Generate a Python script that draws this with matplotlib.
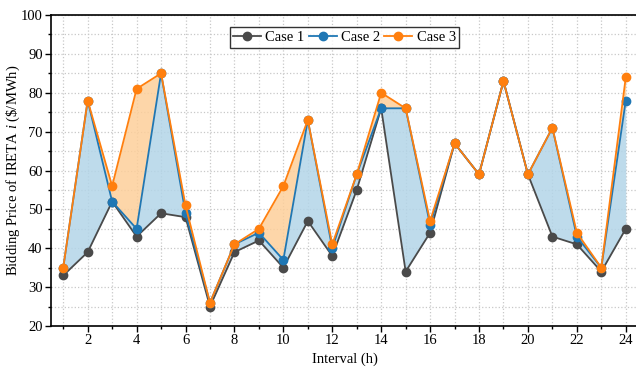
import matplotlib
matplotlib.use("Agg")
import matplotlib.pyplot as plt
from matplotlib.ticker import MultipleLocator
import numpy as np

plt.rcParams['font.family'] = ['Liberation Serif', 'DejaVu Serif']
plt.rcParams['mathtext.fontset'] = 'custom'
plt.rcParams['mathtext.it'] = 'Liberation Serif:italic'
plt.rcParams['mathtext.rm'] = 'Liberation Serif'

hours = list(range(1, 25))
case1 = [33, 39, 52, 43, 49, 48, 25, 39, 42, 35, 47, 38,
         55, 76, 34, 44, 67, 59, 83, 59, 43, 41, 34, 45]
case2 = [35, 78, 52, 45, 85, 49, 26, 41, 44, 37, 73, 40,
         59, 76, 76, 46, 67, 59, 83, 59, 71, 43, 35, 78]
case3 = [35, 78, 56, 81, 85, 51, 26, 41, 45, 56, 73, 41,
         59, 80, 76, 47, 67, 59, 83, 59, 71, 44, 35, 84]

c1 = '#4a4a4a'
c2 = '#1f77b4'
c3 = '#ff7f0e'

fig = plt.figure(figsize=(6.36, 3.71), dpi=100)
ax = fig.add_axes([51 / 636, 1 - 326 / 371, 587 / 636, 311 / 371])

ax.fill_between(hours, case1, case2, color='#b3d5e8', alpha=0.85, lw=0, zorder=1)
ax.fill_between(hours, case2, case3, color='#fdcf9a', alpha=0.85, lw=0, zorder=1)

ax.plot(hours, case1, '-o', color=c1, ms=6, lw=1.3, label='Case 1', zorder=3)
ax.plot(hours, case2, '-o', color=c2, ms=6, lw=1.3, label='Case 2', zorder=4)
ax.plot(hours, case3, '-o', color=c3, ms=6, lw=1.3, label='Case 3', zorder=5)

ax.set_xlim(0.5, 24.5)
ax.set_ylim(20, 100)
ax.xaxis.set_major_locator(MultipleLocator(2))
ax.xaxis.set_minor_locator(MultipleLocator(1))
ax.yaxis.set_major_locator(MultipleLocator(10))
ax.yaxis.set_minor_locator(MultipleLocator(5))
ax.tick_params(which='major', direction='out', length=4, width=1,
               labelsize=10.5, pad=2)
ax.tick_params(which='minor', direction='out', length=2.5, width=1)
ax.grid(which='both', color='#c8c8c8', ls=':', lw=0.9, zorder=0)
ax.set_axisbelow(True)

for s in ax.spines.values():
    s.set_linewidth(1.2)
ax.spines['right'].set_visible(False)

ax.set_xlabel('Interval (h)', fontsize=10.5)
ax.set_ylabel(r'Bidding Price of IRETA $i$ (\$/MWh)', fontsize=10.5)
ax.yaxis.set_label_coords(-0.049, 0.5)

leg = ax.legend(loc='upper center', ncol=3, fontsize=10.5, frameon=True,
                fancybox=False, edgecolor='black', handlelength=1.9,
                columnspacing=0.3, handletextpad=0.3, borderpad=0.25,
                borderaxespad=0.3, bbox_to_anchor=(0.5, 0.975))
leg.get_frame().set_linewidth(1.0)

fig.savefig('out.png', dpi=100)
